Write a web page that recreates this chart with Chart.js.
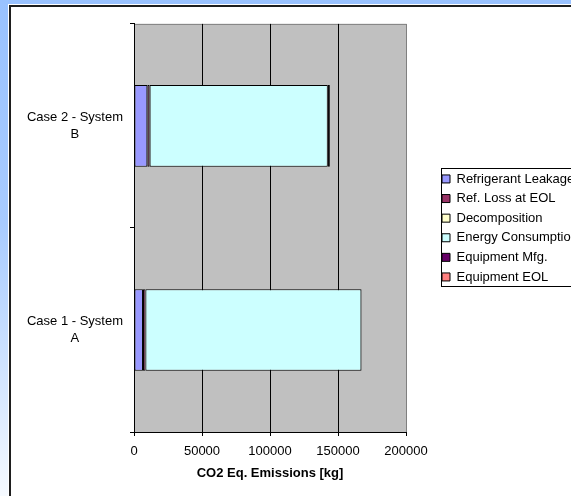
<!DOCTYPE html>
<html>
<head>
<meta charset="utf-8">
<script src="https://cdn.jsdelivr.net/npm/chart.js@4/dist/chart.umd.min.js"></script>
<style>
  html, body { margin: 0; padding: 0; width: 571px; height: 496px; overflow: hidden; }
  body { background: linear-gradient(to bottom, #99C2FF 0%, #A8CBFF 45%, #D8E8FF 80%, #F6FAFF 100%); position: relative; }
  #frame { position: absolute; left: 9px; top: 5px; width: 800px; height: 700px; background: #fff;
           border-left: 2px solid #1e1e1e; border-top: 2px solid #1e1e1e; box-shadow: -1px -1px 0 #ffffff; }
  #c { position: absolute; left: 0; top: 0; width: 760px; height: 496px; }
</style>
</head>
<body>
<div id="frame"></div>
<canvas id="c" width="760" height="496"></canvas>
<script>
// ---- data ----
const categories = [["Case 1 - System", "A"], ["Case 2 - System", "B"]];
const seriesNames = ["Refrigerant Leakage", "Ref. Loss at EOL", "Decomposition", "Energy Consumption", "Equipment Mfg.", "Equipment EOL"];
const refrigerantLeakage = [6600, 9800];
const refLossAtEOL = [1800, 1700];
const decomposition = [0, 0];
const energyConsumption = [158800, 131000];
const equipmentMfg = [300, 1500];
const equipmentEOL = [0, 0];
const xTicks = [0, 50000, 100000, 150000, 200000];
const xTitle = "CO2 Eq. Emissions [kg]";

const seriesValues = [refrigerantLeakage, refLossAtEOL, decomposition, energyConsumption, equipmentMfg, equipmentEOL];
const seriesColors = ["#9999FF", "#993366", "#FFFFCC", "#CCFFFF", "#660066", "#FF8080"];

const FONT = "'Liberation Sans', Arial, sans-serif";
const LEG_FONT = 13, LEG_BOX = 8, LEG_PAD = 6.6;
const PLOT_RIGHT = 406;

const canvas = document.getElementById('c');

const plotBg = {
  id: 'plotBg',
  beforeDraw(chart) {
    const {ctx, chartArea: a} = chart;
    ctx.save();
    ctx.fillStyle = '#C0C0C0';
    ctx.fillRect(a.left, a.top, a.right - a.left, a.bottom - a.top);
    ctx.strokeStyle = '#808080';
    ctx.lineWidth = 1;
    ctx.beginPath();
    ctx.moveTo(a.left, a.top + 0.5);
    ctx.lineTo(a.right, a.top + 0.5);
    ctx.stroke();
    ctx.restore();
  }
};

const legendBorder = {
  id: 'legendBorder',
  afterDraw(chart) {
    const hb = chart.legend && chart.legend.legendHitBoxes;
    if (!hb || !hb.length) return;
    const ctx = chart.ctx;
    const last = hb[hb.length - 1];
    const x = Math.round(hb[0].left - 1) + 0.5;
    const top = Math.round(hb[0].top - 4) + 0.5;
    const bottom = Math.round(last.top + last.height + 3) + 0.5;
    ctx.save();
    ctx.strokeStyle = '#000';
    ctx.lineWidth = 1;
    ctx.strokeRect(x, top, 400, bottom - top);
    ctx.restore();
  }
};

const chart = new Chart(canvas, {
  type: 'bar',
  data: {
    labels: categories,
    datasets: seriesNames.map((name, i) => ({
      label: name,
      data: seriesValues[i],
      backgroundColor: seriesColors[i],
      borderColor: '#000000',
      borderWidth: 1,
      borderSkipped: false,
      categoryPercentage: 1,
      barPercentage: 0.4
    }))
  },
  options: {
    indexAxis: 'y',
    responsive: false,
    animation: false,
    devicePixelRatio: 1,
    layout: { padding: { top: 22, left: 0, right: 0, bottom: 0 } },
    plugins: {
      tooltip: { enabled: false },
      legend: {
        position: 'right',
        fullSize: false,
        maxWidth: 1000,
        labels: {
          font: { family: FONT, size: LEG_FONT },
          color: '#000',
          boxWidth: LEG_BOX,
          boxHeight: LEG_BOX,
          padding: LEG_PAD
        }
      }
    },
    scales: {
      x: {
        type: 'linear',
        stacked: true,
        min: 0,
        max: 200000,
        afterBuildTicks(s) { s.ticks = xTicks.map(v => ({ value: v })); },
        ticks: { font: { family: FONT, size: 13 }, color: '#000', padding: 8, maxRotation: 0,
                 callback: (v) => String(v) },
        grid: {
          color: (c) => c.index === xTicks.length - 1 ? '#808080' : '#000000',
          tickColor: '#000000',
          tickLength: 4,
          lineWidth: 1
        },
        border: { display: true, color: '#000', width: 1 },
        title: { display: true, text: xTitle, font: { family: FONT, size: 13, weight: 'bold' }, color: '#000', padding: { top: 0, bottom: 15 } },
        afterFit(s) { s.height = 64; }
      },
      y: {
        type: 'category',
        stacked: true,
        reverse: true,
        ticks: { font: { family: FONT, size: 13, lineHeight: 1.3 }, color: '#000', padding: 7, crossAlign: 'center' },
        grid: { drawOnChartArea: false, drawTicks: true, tickLength: 4, color: '#000', offset: true },
        border: { display: true, color: '#000', width: 1 },
        afterFit(s) { s.width = 134; }
      },
      y2: {
        type: 'category',
        position: 'right',
        display: true,
        ticks: { display: false },
        grid: { display: false, drawTicks: false },
        border: { display: false },
        afterFit(s) { s.width = 29.4; }
      }
    }
  },
  plugins: [plotBg, legendBorder]
});

// pad the right side so the plot ends where the reference's does; the window cuts the legend's right side
const extra = chart.chartArea.right - PLOT_RIGHT;
if (extra > 0.01) {
  chart.options.layout.padding.right = extra;
  chart.update();
}
</script>
</body>
</html>
